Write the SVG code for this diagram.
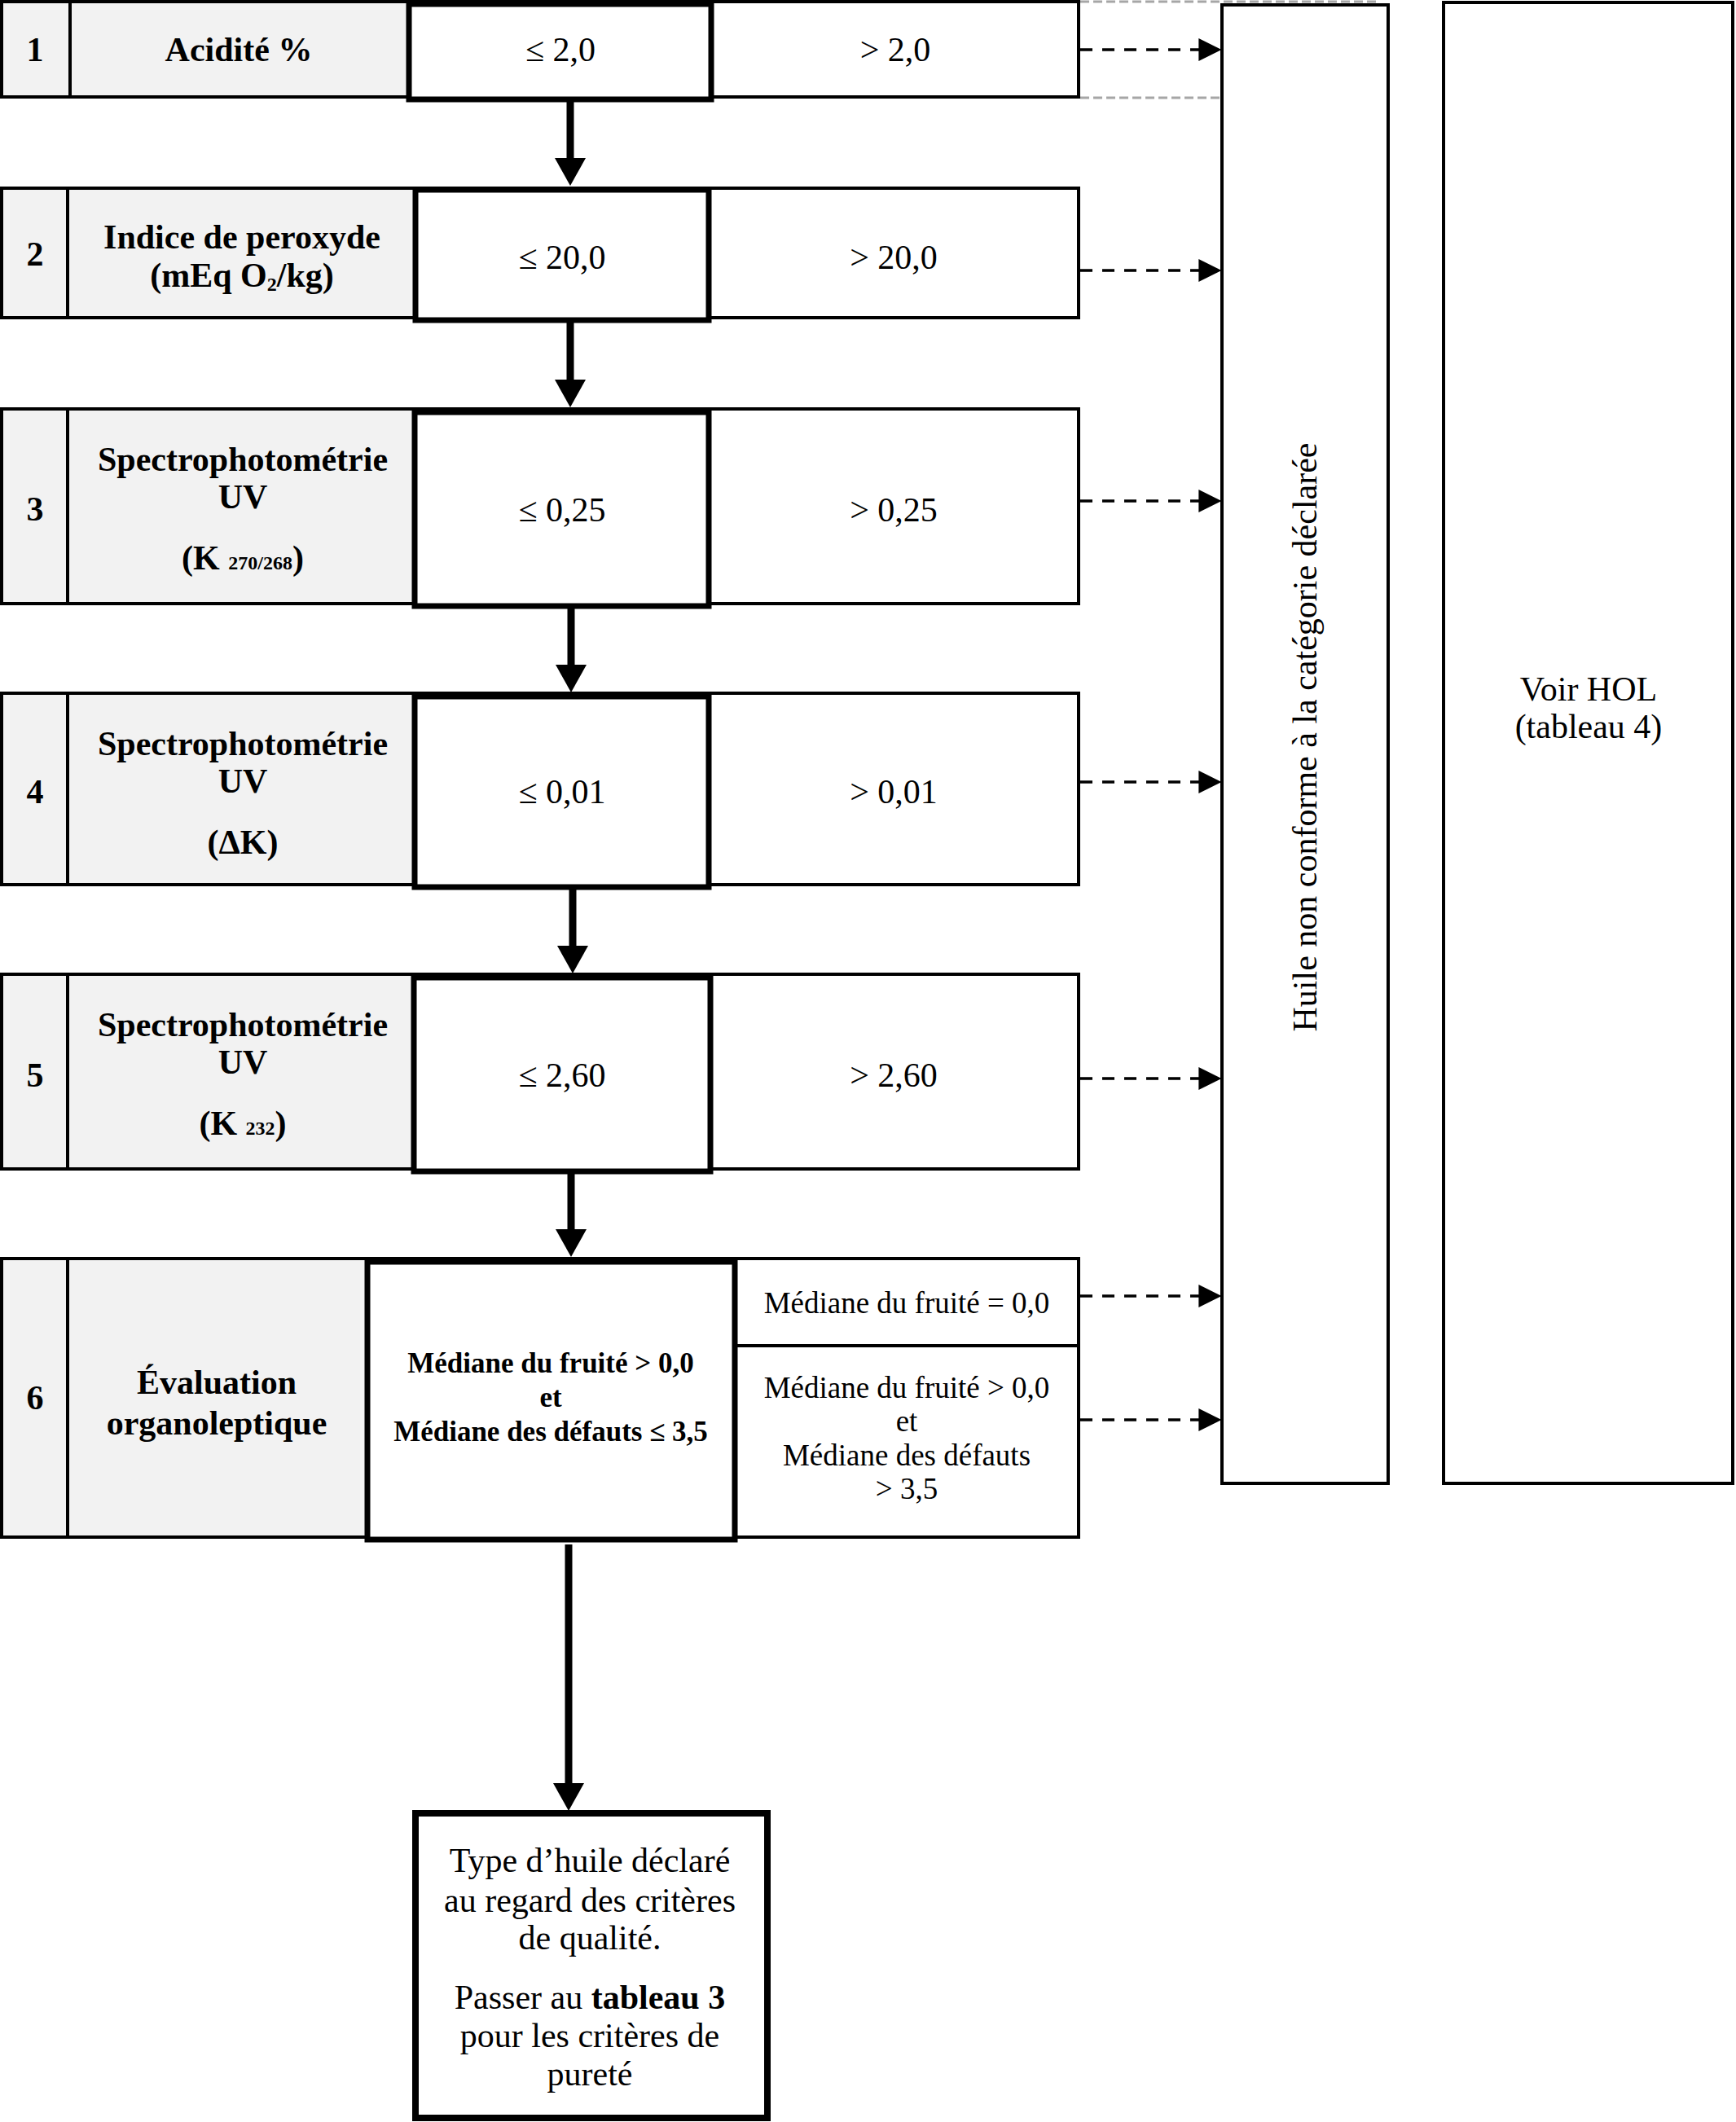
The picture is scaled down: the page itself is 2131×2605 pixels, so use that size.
<svg xmlns="http://www.w3.org/2000/svg" width="2131" height="2605" viewBox="0 0 2131 2605">
<style>
text{font-family:"Liberation Serif","Times New Roman",serif;fill:#000;text-anchor:middle}
.b{font-weight:bold;font-size:42px}
.r{font-size:42px}
.m{font-weight:bold;font-size:35px}
.s{font-size:37px}
.small{font-size:24px}
.row{fill:#fff;stroke:#000;stroke-width:4}
.lab{fill:#f2f2f2;stroke:none}
.ln{stroke:#000;stroke-width:4;fill:none}
.thick{fill:#fff;stroke:#000;stroke-width:7}
.side{fill:#fff;stroke:#000;stroke-width:4}
.flow{stroke:#000;stroke-width:9;fill:none}
.dash{stroke:#000;stroke-width:3.5;stroke-dasharray:15 12;fill:none}
.gray{stroke:#a6a6a6;stroke-width:3;stroke-dasharray:11 5;fill:none}
</style>
<defs>
<marker id="ah" markerUnits="userSpaceOnUse" markerWidth="36" markerHeight="40" viewBox="0 0 34 40" refX="10" refY="20" orient="auto">
<path d="M0,1 L34,20 L0,39 Z" fill="#000"/>
</marker>
<marker id="dh" markerUnits="userSpaceOnUse" markerWidth="28" markerHeight="28" viewBox="0 0 26 26" refX="8" refY="13" orient="auto">
<path d="M0,0 L26,13 L0,26 Z" fill="#000"/>
</marker>
</defs>
<rect width="2131" height="2605" fill="#fff"/>

<g id="row1">
<rect class="row" x="2" y="2" width="1322" height="117"/>
<rect class="lab" x="4" y="4" width="498" height="113"/>
<line class="ln" x1="86" y1="2" x2="86" y2="119"/>
<rect class="thick" x="502" y="5" width="371" height="117"/>
<text class="b" x="43" y="75">1</text>
<text class="b" x="293" y="75">Acidité %</text>
<text class="r" x="688" y="75">≤ 2,0</text>
<text class="r" x="1099" y="75">&gt; 2,0</text>
</g>

<g id="row2">
<rect class="row" x="2" y="231" width="1322" height="159"/>
<rect class="lab" x="4" y="233" width="506" height="155"/>
<line class="ln" x1="83" y1="231" x2="83" y2="390"/>
<rect class="thick" x="510" y="233" width="360" height="160"/>
<text class="b" x="43" y="326">2</text>
<text class="b" x="297" y="305">Indice de peroxyde</text>
<text class="b" x="297" y="352">(mEq O<tspan class="small" dy="5">2</tspan><tspan dy="-5">/kg)</tspan></text>
<text class="r" x="690" y="330">≤ 20,0</text>
<text class="r" x="1097" y="330">&gt; 20,0</text>
</g>

<g id="row3">
<rect class="row" x="2" y="502" width="1322" height="239"/>
<rect class="lab" x="4" y="504" width="505" height="235"/>
<line class="ln" x1="83" y1="502" x2="83" y2="741"/>
<rect class="thick" x="509" y="506" width="361" height="238"/>
<text class="b" x="43" y="639">3</text>
<text class="b" x="298" y="578">Spectrophotométrie</text>
<text class="b" x="298" y="624">UV</text>
<text class="b" x="298" y="699">(K <tspan class="small" font-weight="bold">270/268</tspan>)</text>
<text class="r" x="690" y="640">≤ 0,25</text>
<text class="r" x="1097" y="640">&gt; 0,25</text>
</g>

<g id="row4">
<rect class="row" x="2" y="851" width="1322" height="235"/>
<rect class="lab" x="4" y="853" width="505" height="231"/>
<line class="ln" x1="83" y1="851" x2="83" y2="1086"/>
<rect class="thick" x="509" y="855" width="361" height="234"/>
<text class="b" x="43" y="986">4</text>
<text class="b" x="298" y="927">Spectrophotométrie</text>
<text class="b" x="298" y="973">UV</text>
<text class="b" x="298" y="1048">(ΔK)</text>
<text class="r" x="690" y="986">≤ 0,01</text>
<text class="r" x="1097" y="986">&gt; 0,01</text>
</g>

<g id="row5">
<rect class="row" x="2" y="1196" width="1322" height="239"/>
<rect class="lab" x="4" y="1198" width="504" height="235"/>
<line class="ln" x1="83" y1="1196" x2="83" y2="1435"/>
<rect class="thick" x="508" y="1200" width="364" height="238"/>
<text class="b" x="43" y="1334">5</text>
<text class="b" x="298" y="1272">Spectrophotométrie</text>
<text class="b" x="298" y="1318">UV</text>
<text class="b" x="298" y="1393">(K <tspan class="small" font-weight="bold">232</tspan>)</text>
<text class="r" x="690" y="1334">≤ 2,60</text>
<text class="r" x="1097" y="1334">&gt; 2,60</text>
</g>

<g id="row6">
<rect class="row" x="2" y="1545" width="1322" height="342"/>
<rect class="lab" x="4" y="1547" width="447" height="338"/>
<line class="ln" x1="83" y1="1545" x2="83" y2="1887"/>
<line class="ln" x1="902" y1="1652" x2="1324" y2="1652"/>
<rect class="thick" x="451" y="1549" width="451" height="341"/>
<text class="b" x="43" y="1730">6</text>
<text class="b" x="266" y="1711">Évaluation</text>
<text class="b" x="266" y="1761">organoleptique</text>
<text class="m" x="676" y="1685">Médiane du fruité &gt; 0,0</text>
<text class="m" x="676" y="1727">et</text>
<text class="m" x="676" y="1769">Médiane des défauts ≤ 3,5</text>
<text class="s" x="1113" y="1612">Médiane du fruité = 0,0</text>
<text class="s" x="1113" y="1716">Médiane du fruité &gt; 0,0</text>
<text class="s" x="1113" y="1757">et</text>
<text class="s" x="1113" y="1799">Médiane des défauts</text>
<text class="s" x="1113" y="1840">&gt; 3,5</text>
</g>

<g id="nonconforme">
<rect class="side" x="1500" y="6" width="204" height="1815"/>
<text class="r" transform="translate(1616,905) rotate(-90)">Huile non conforme à la catégorie déclarée</text>
</g>

<g id="hol">
<rect class="side" x="1772" y="3" width="355" height="1818"/>
<text class="r" x="1950" y="860">Voir HOL</text>
<text class="r" x="1950" y="906">(tableau 4)</text>
</g>

<g id="final">
<rect x="510" y="2226" width="432" height="374" fill="#fff" stroke="#000" stroke-width="8"/>
<text class="r" x="724" y="2298">Type d’huile déclaré</text>
<text class="r" x="724" y="2347">au regard des critères</text>
<text class="r" x="724" y="2393">de qualité.</text>
<text class="r" x="724" y="2466">Passer au <tspan font-weight="bold">tableau 3</tspan></text>
<text class="r" x="724" y="2513">pour les critères de</text>
<text class="r" x="724" y="2560">pureté</text>
</g>

<g id="connectors">
<line class="gray" x1="1326" y1="2" x2="1689" y2="2"/>
<line class="gray" x1="1326" y1="120" x2="1498" y2="120"/>
<line class="flow" x1="700" y1="125" x2="700" y2="204" marker-end="url(#ah)"/>
<line class="flow" x1="700" y1="396" x2="700" y2="476" marker-end="url(#ah)"/>
<line class="flow" x1="701" y1="747" x2="701" y2="826" marker-end="url(#ah)"/>
<line class="flow" x1="703" y1="1092" x2="703" y2="1171" marker-end="url(#ah)"/>
<line class="flow" x1="701" y1="1441" x2="701" y2="1519" marker-end="url(#ah)"/>
<line class="flow" x1="698" y1="1896" x2="698" y2="2199" marker-end="url(#ah)"/>
<line class="dash" x1="1326" y1="61" x2="1480" y2="61" marker-end="url(#dh)"/>
<line class="dash" x1="1326" y1="332" x2="1480" y2="332" marker-end="url(#dh)"/>
<line class="dash" x1="1326" y1="615" x2="1480" y2="615" marker-end="url(#dh)"/>
<line class="dash" x1="1326" y1="960" x2="1480" y2="960" marker-end="url(#dh)"/>
<line class="dash" x1="1326" y1="1324" x2="1480" y2="1324" marker-end="url(#dh)"/>
<line class="dash" x1="1326" y1="1591" x2="1480" y2="1591" marker-end="url(#dh)"/>
<line class="dash" x1="1326" y1="1743" x2="1480" y2="1743" marker-end="url(#dh)"/>
</g>
</svg>
